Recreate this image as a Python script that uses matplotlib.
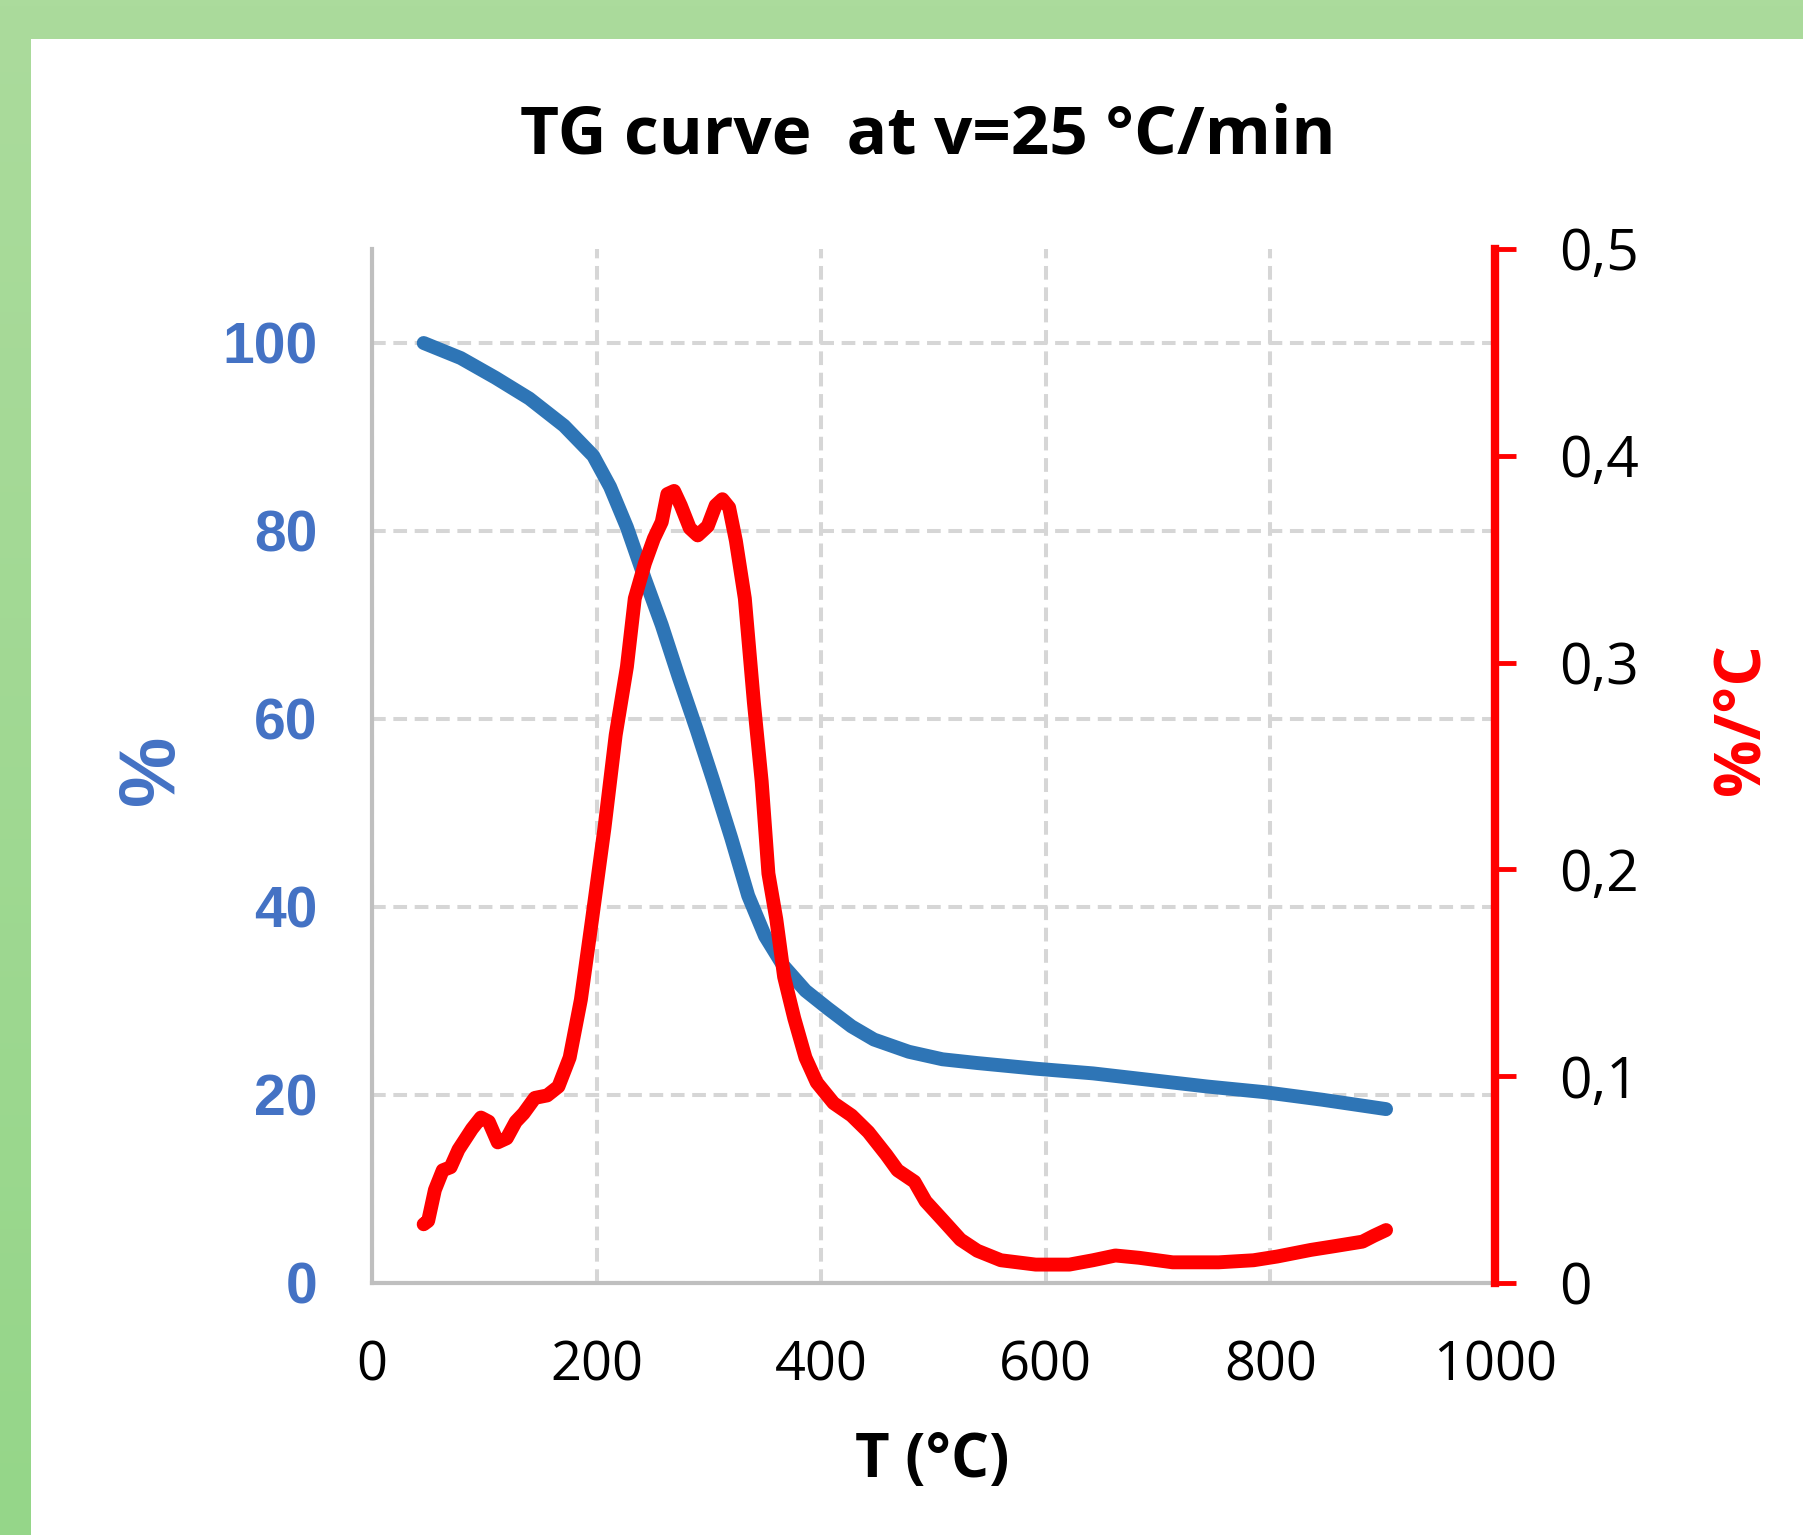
import numpy as np
import matplotlib
matplotlib.use("Agg")
import matplotlib.pyplot as plt
from matplotlib.patches import Rectangle
from matplotlib.colors import LinearSegmentedColormap

# ---------------- data ----------------
tg_T = [46, 79, 110, 140, 171, 197, 212, 227, 243, 258, 273, 289, 304, 320, 335,
        350, 366, 386, 406, 427, 447, 478, 508, 539, 591, 642, 693, 744, 795, 846, 903]
tg_mass = [100, 98.4, 96.3, 94.1, 91.2, 88, 84.7, 80.4, 74.9, 70, 64.5, 58.9, 53.4, 47.3, 41.2,
           36.9, 33.8, 31.1, 29.2, 27.3, 25.9, 24.6, 23.8, 23.4, 22.8, 22.3, 21.6, 20.9, 20.3, 19.5, 18.5]

dtg_T = [46, 50, 56, 63, 70, 77, 89, 97, 104, 112, 120, 128, 135, 145, 156, 166, 176, 186,
         196, 207, 217, 227, 234, 243, 251, 258, 263, 269, 275, 283, 290, 299, 306, 312, 318,
         324, 332, 340, 347, 353, 360, 367, 376, 386, 396, 411, 427, 442, 458, 468, 483, 493,
         509, 524, 539, 560, 591, 621, 642, 662, 683, 713, 754, 785, 806, 836, 857, 882, 892, 903]
dtg_rate = [0.0284, 0.030, 0.045, 0.0545, 0.056, 0.0645, 0.0745, 0.080, 0.078, 0.068, 0.070,
            0.078, 0.082, 0.0895, 0.0907, 0.095, 0.109, 0.137, 0.176, 0.220, 0.265, 0.298,
            0.331, 0.348, 0.360, 0.368, 0.3815, 0.383, 0.376, 0.365, 0.3615, 0.366, 0.376,
            0.379, 0.375, 0.359, 0.331, 0.281, 0.2425, 0.198, 0.176, 0.148, 0.128, 0.109,
            0.097, 0.087, 0.081, 0.073, 0.062, 0.0545, 0.049, 0.0395, 0.030, 0.021, 0.0156,
            0.011, 0.0089, 0.0089, 0.011, 0.0133, 0.0122, 0.010, 0.010, 0.011, 0.0128, 0.016,
            0.0178, 0.020, 0.0228, 0.0256]

x_ticks = [0, 200, 400, 600, 800, 1000]
left_ticks = [0, 20, 40, 60, 80, 100]
right_ticks = [0, 0.1, 0.2, 0.3, 0.4, 0.5]
right_labels = ["0", "0,1", "0,2", "0,3", "0,4", "0,5"]

title = "TG curve  at v=25 °C/min"
xlabel = "T (°C)"
left_label = "%"
right_label = "%/°C"

# ---------------- figure ----------------
W, H = 1803, 1535
DPI = 100
fig = plt.figure(figsize=(W / DPI, H / DPI), dpi=DPI)

def fx(px):
    return px / W

def fy(py):
    return 1 - py / H

# green background with subtle vertical gradient
bg = fig.add_axes([0, 0, 1, 1], zorder=-10)
cmap = LinearSegmentedColormap.from_list("g", ["#ABDB9C", "#95D689"])
bg.imshow(np.linspace(0, 1, 256).reshape(-1, 1), aspect="auto", cmap=cmap,
          extent=[0, 1, 0, 1], origin="upper")
bg.add_patch(Rectangle((31 / W, 0), 1, 1 - 39 / H, transform=bg.transAxes,
                       facecolor="white", edgecolor="none"))
bg.set_xlim(0, 1)
bg.set_ylim(0, 1)
bg.axis("off")

left_px, right_px, top_px, bottom_px = 372, 1495, 249, 1283
ax = fig.add_axes([fx(left_px), fy(bottom_px), fx(right_px - left_px), (bottom_px - top_px) / H])
ax.set_facecolor("none")

grid_c = "#D6D6D6"
ax.set_xlim(0, 1000)
ax.set_ylim(0, 110)
ax.set_xticks(x_ticks)
ax.set_yticks(left_ticks)
ax.grid(True, color=grid_c, linestyle=(0, (3.4, 1.9)), linewidth=2.9)
ax.set_axisbelow(True)

for s in ["top", "right"]:
    ax.spines[s].set_visible(False)
for s in ["left", "bottom"]:
    ax.spines[s].set_color("#BFBFBF")
    ax.spines[s].set_linewidth(3)

ax.tick_params(axis="y", length=0, pad=39, labelcolor="#4472C4")
ax.tick_params(axis="x", length=0, pad=40, labelcolor="black")
for lab in ax.get_yticklabels():
    lab.set_fontfamily("Liberation Sans")
    lab.set_fontweight("bold")
    lab.set_fontsize(41)
for lab in ax.get_xticklabels():
    lab.set_fontfamily("Open Sans")
    lab.set_fontsize(39)

ax.plot(tg_T, tg_mass, color="#2E75B6", linewidth=10, solid_capstyle="round",
        solid_joinstyle="round", zorder=3)

ax2 = ax.twinx()
ax2.set_ylim(0, 0.5)
ax2.set_yticks(right_ticks)
ax2.set_yticklabels(right_labels, fontfamily="Open Sans", fontsize=41)
for s in ["top", "left", "bottom"]:
    ax2.spines[s].set_visible(False)
ax2.spines["right"].set_color("#FF0000")
ax2.spines["right"].set_linewidth(6)
ax2.tick_params(axis="y", direction="out", length=15, width=3.5, color="#FF0000",
                pad=31, labelcolor="black")
ax2.plot(dtg_T, dtg_rate, color="#FF0000", linewidth=10, solid_capstyle="round",
         solid_joinstyle="round", zorder=4)

# texts
fig.text(fx(928), fy(154), title, ha="center", va="baseline",
         fontfamily="Open Sans", fontweight="bold", fontsize=48.5, color="black")
fig.text(fx(932), fy(1477), xlabel, ha="center", va="baseline",
         fontfamily="Open Sans", fontweight="bold", fontsize=43, color="black")
fig.text(fx(153), fy(770), left_label, ha="center", va="center", rotation=90,
         fontfamily="Liberation Sans", fontweight="bold", fontsize=57, color="#4472C4")
fig.text(fx(1742), fy(719), right_label, ha="center", va="center", rotation=90,
         fontfamily="Open Sans", fontweight="bold", fontsize=46, color="#FF0000")

fig.savefig("out.png", dpi=DPI)
